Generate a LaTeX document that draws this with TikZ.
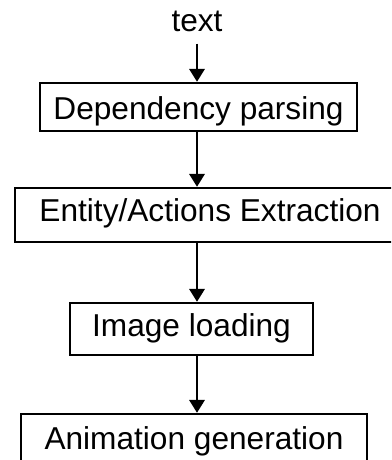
\documentclass[tikz,border=0pt]{standalone}
\usepackage{fontspec}
\setmainfont{Liberation Sans}
\usetikzlibrary{arrows.meta}
\tikzset{
  stage/.style={draw, line width=0.06cm, inner sep=0pt, anchor=base,
    text height=0.85cm, text depth=0.45cm, font=\fontsize{22.5}{26}\selectfont},
  flow/.style={line width=0.06cm, -{Triangle[width=0.38cm,length=0.32cm]}}
}
\begin{document}
\begin{tikzpicture}
\useasboundingbox (0,0) rectangle (9.775 cm,11.5 cm);
\clip (0,0) rectangle (9.775 cm,11.5 cm);
\node[anchor=base, inner sep=0pt, font=\fontsize{22.5}{26}\selectfont] (txt) at (4.925 cm, 10.7 cm) {text};
\node[stage, minimum width=7.925cm, text height=0.925cm, text depth=0.275cm] (dep) at (4.9625 cm, 8.5 cm) {Dependency parsing};
\node[stage, minimum width=9.75cm, text depth=0.5cm] (ent) at (5.25 cm, 5.95 cm) {Entity/Actions Extraction};
\node[stage, minimum width=6.075cm] (img) at (4.7875 cm, 3.075 cm) {Image loading};
\node[stage, minimum width=8.65cm, text height=0.9cm] (ani) at (4.85 cm, 0.25 cm) {Animation generation};
\draw[flow, shorten <=0.275cm] (txt.south) -- (dep.north -| txt);
\draw[flow] (dep.south -| txt) -- (ent.north -| txt);
\draw[flow] (ent.south -| txt) -- (img.north -| txt);
\draw[flow] (img.south -| txt) -- (ani.north -| txt);
\end{tikzpicture}
\end{document}
